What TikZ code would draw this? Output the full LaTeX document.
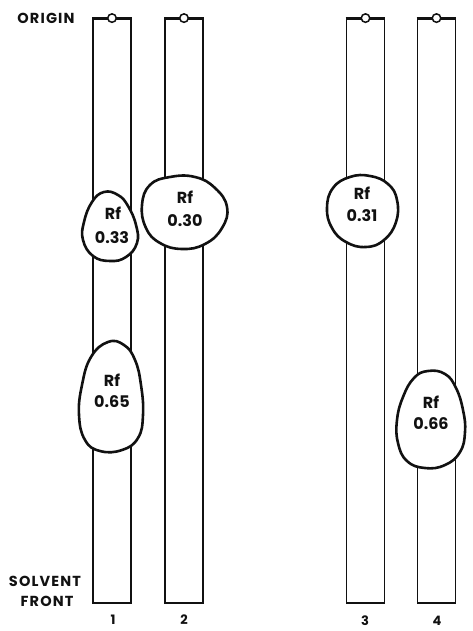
\documentclass[tikz,border=0pt]{standalone}
\usepackage{fontspec}
\setmainfont{Poppins}
\definecolor{ink}{HTML}{111111}
\begin{document}
\begin{tikzpicture}[x=1pt,y=-1pt,
  strip/.style={draw=ink, line width=1.8pt, minimum width=38pt, minimum height=584pt, inner sep=0pt},
  topline/.style={draw=ink, line width=2.8pt},
  origin/.style={circle, draw=ink, fill=white, line width=1.5pt, minimum size=8.5pt, inner sep=0pt},
  spot/.style={draw=ink, fill=white, line width=2.6pt},
  lab/.style={font=\fontsize{14.5}{14.5}\selectfont\bfseries\addfontfeatures{LetterSpace=8}, text=ink, inner sep=0pt},
  rf/.style={font=\fontsize{16}{16}\selectfont\bfseries, text=ink, inner sep=0pt, align=center},
  num/.style={font=\fontsize{13}{13}\selectfont\bfseries, text=ink, inner sep=0pt}]
\useasboundingbox (0,0) rectangle (473,631);
% strips
\node[strip] (s1) at (112,311) {};
\node[strip] (s2) at (184,311) {};
\node[strip] (s3) at (365.5,311) {};
\node[strip] (s4) at (436.5,311) {};
\foreach \s in {s1,s2,s3,s4}{
  \draw[topline] (\s.north west) -- (\s.north east);
  \node[origin] (o\s) at (\s.north) {};
}
% spots
\draw[spot] plot[smooth cycle, tension=0.75] coordinates {(104,192) (118,195) (128,206) (136,225) (137,243) (126,257) (110,261) (93,256) (83,240) (84,222) (92,202)};
\draw[spot] plot[smooth cycle, tension=0.75] coordinates {(150,185) (170,177) (195,177) (215,188) (227,207) (222,228) (205,244) (182,249) (160,243) (146,228) (142,205)};
\draw[spot] plot[smooth cycle, tension=0.75] coordinates {(333,188) (350,177) (370,176) (388,184) (397,200) (396,222) (384,240) (366,247) (346,242) (332,228) (327,208)};
\draw[spot] plot[smooth cycle, tension=0.75] coordinates {(108,342) (124,345) (135,360) (141,385) (143,415) (138,438) (122,450) (100,451) (85,440) (79,415) (82,385) (91,357)};
\draw[spot] plot[smooth cycle, tension=0.75] coordinates {(428,371) (445,374) (456,388) (463,410) (465,432) (460,452) (445,465) (425,468) (407,461) (398,443) (397,420) (403,397) (414,378)};
% spot labels
\node[rf] (r1a) at (113,213) {Rf};
\node[rf] (v1a) at (112,238) {0.33};
\node[rf] (r2) at (185,197) {Rf};
\node[rf] (v2) at (185,221) {0.30};
\node[rf] (r3) at (362,193) {Rf};
\node[rf] (v3) at (362,216) {0.31};
\node[rf] (r1b) at (112,380) {Rf};
\node[rf] (v1b) at (112,402) {0.65};
\node[rf] (r4) at (431,402) {Rf};
\node[rf] (v4) at (431,424) {0.66};
% side labels
\node[lab] (orig) at (46,18) {ORIGIN};
\node[lab] (solv) at (45,581) {SOLVENT};
\node[lab] (front) at (47,601) {FRONT};
% strip numbers
\node[num] (n1) at (113,620) {1};
\node[num] (n2) at (184,620) {2};
\node[num] (n3) at (365,621) {3};
\node[num] (n4) at (437,621) {4};
\end{tikzpicture}
\end{document}
